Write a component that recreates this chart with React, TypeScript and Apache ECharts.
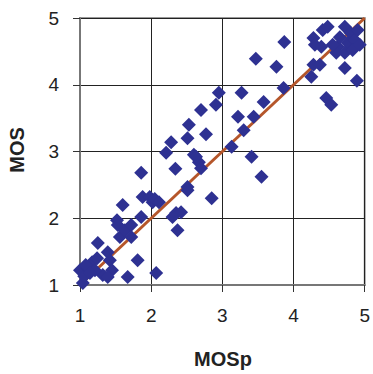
import React, { useEffect, useRef } from "react";
import * as echarts from "echarts";

const mosP: number[] = [
  1.0, 1.04, 1.06, 1.11, 1.17, 1.24, 1.25, 1.32, 1.39, 1.42, 1.45, 1.21, 1.67, 1.81, 2.07,
  1.52, 1.56, 1.6, 1.53, 1.63, 1.86, 2.02, 1.72, 1.72, 1.88, 1.98, 2.05, 2.11, 1.86, 2.34,
  2.21, 2.28, 2.51, 2.53, 2.77, 2.7, 2.91, 2.95, 2.51, 2.6, 2.67, 2.7, 2.85, 2.51, 2.35,
  2.42, 2.3, 2.37, 2.63, 3.13, 3.3, 3.22, 3.44, 3.27, 3.58, 3.41, 3.55, 3.86, 3.47, 3.76,
  3.87, 4.25, 4.28, 4.37, 4.72, 4.89, 4.46, 4.53, 4.28, 4.3, 4.39, 4.41, 4.48, 4.72, 4.8,
  4.62, 4.76, 4.86, 4.72, 4.6, 4.55, 4.9, 4.83, 4.93, 4.65, 1.39, 1.08, 1.14,
];
const mos: number[] = [
  1.22, 1.03, 1.13, 1.25, 1.34, 1.4, 1.63, 1.15, 1.49, 1.37, 1.22, 1.22, 1.12, 1.37, 1.18,
  1.97, 1.72, 2.2, 1.9, 1.82, 2.02, 2.24, 1.9, 1.72, 2.32, 2.32, 2.29, 2.24, 2.68, 2.74,
  2.98, 3.14, 3.2, 3.4, 3.26, 3.62, 3.7, 3.88, 2.47, 2.95, 2.84, 2.75, 2.3, 2.42, 2.08,
  2.09, 2.02, 1.82, 2.92, 3.07, 3.32, 3.52, 3.52, 3.88, 3.74, 2.92, 2.62, 3.95, 4.39, 4.27,
  4.64, 4.12, 4.3, 4.3, 4.25, 4.06, 3.8, 3.7, 4.7, 4.6, 4.57, 4.82, 4.87, 4.87, 4.78,
  4.57, 4.63, 4.67, 4.48, 4.48, 4.6, 4.82, 4.52, 4.6, 4.71, 1.12, 1.3, 1.18,
];
const ticks: number[] = [1, 2, 3, 4, 5];
const refLine: number[][] = [
  [1, 1],
  [5, 5],
];

export default function App() {
  const ref = useRef<HTMLDivElement>(null);
  useEffect(() => {
    if (!ref.current) return;
    const chart = echarts.init(ref.current, undefined, { renderer: "svg" });
    const pts = mosP.map((x, i) => [x, mos[i]]);
    const axisCommon = {
      type: "value" as const,
      min: ticks[0],
      max: ticks[ticks.length - 1],
      interval: 1,
      axisLine: { show: true, lineStyle: { color: "#777", width: 2 } },
      axisTick: { show: true, length: 7, lineStyle: { color: "#333", width: 1 } },
      splitLine: { show: true, lineStyle: { color: "#222", width: 1 } },
      axisLabel: {
        color: "#222",
        fontSize: 19,
        fontFamily: "Liberation Sans, Arial, sans-serif",
        margin: 21,
      },
    };
    chart.setOption({
      animation: false,
      grid: {
        left: 80,
        right: 6,
        top: 18,
        bottom: 89,
        show: true,
        borderColor: "#999",
        borderWidth: 2,
      },
      xAxis: { ...axisCommon },
      yAxis: { ...axisCommon },
      graphic: [
        {
          type: "text",
          x: 223,
          y: 359,
          style: {
            text: "MOSp",
            align: "center",
            verticalAlign: "middle",
            font: "bold 20px 'Liberation Sans', Arial, sans-serif",
            fill: "#222",
          },
        },
        {
          type: "text",
          x: 17,
          y: 150,
          rotation: Math.PI / 2,
          style: {
            text: "MOS",
            align: "center",
            verticalAlign: "middle",
            font: "bold 20px 'Liberation Sans', Arial, sans-serif",
            fill: "#222",
          },
        },
      ],
      series: [
        {
          type: "line",
          data: refLine,
          symbol: "none",
          lineStyle: { color: "#B5562A", width: 3 },
          z: 2,
        },
        {
          type: "scatter",
          data: pts,
          symbol: "diamond",
          symbolSize: 14,
          itemStyle: { color: "#2E3192", opacity: 1 },
          z: 3,
        },
      ],
    });
    return () => chart.dispose();
  }, []);
  return (
    <div
      ref={ref}
      style={{ position: "absolute", left: 0, top: 0, width: 373, height: 374 }}
    />
  );
}
